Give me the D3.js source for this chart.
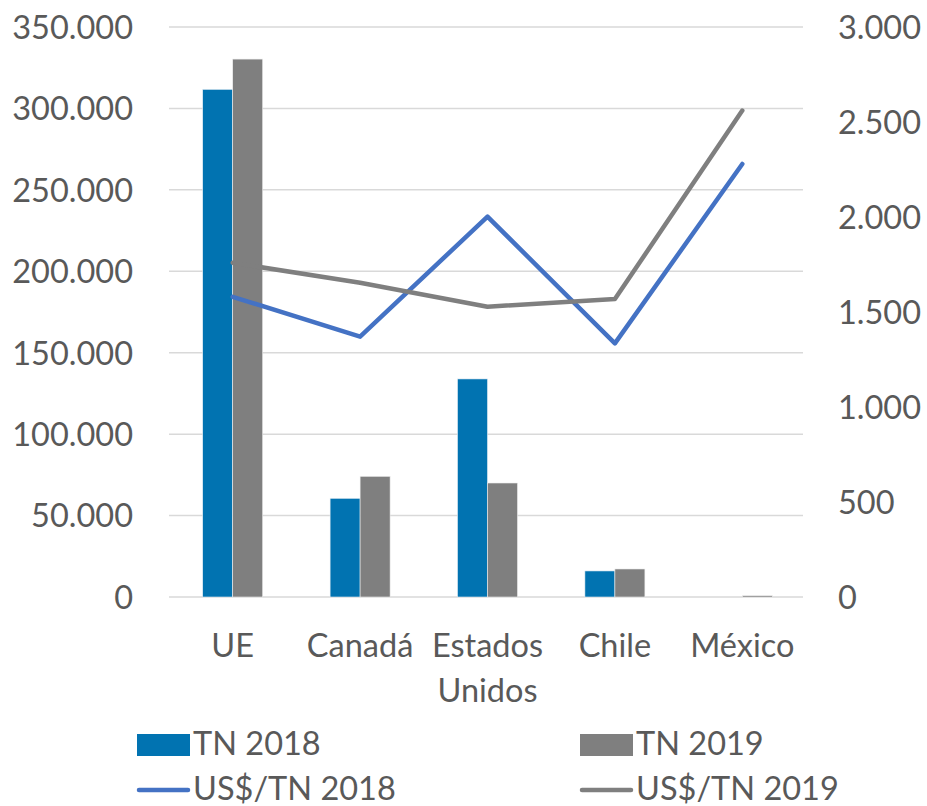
<!DOCTYPE html>
<html><head><meta charset="utf-8">
<script src="https://cdn.jsdelivr.net/npm/d3@7"></script>
<style>
html,body{margin:0;padding:0;background:#fff;}
svg text{font-family:Lato, "Open Sans", sans-serif;fill:#595959;}
</style></head>
<body>
<svg id="chart" width="927" height="806"></svg>
<script>
const categories = ["UE", "Canadá", "Estados Unidos", "Chile", "México"];
const categoryLines = [["UE"], ["Canadá"], ["Estados", "Unidos"], ["Chile"], ["México"]];
const tn2018 = [311700, 60600, 133900, 16000, 0];
const tn2019 = [330300, 74100, 70000, 17200, 800];
const usd2018 = [1580, 1370, 2002, 1335, 2279];
const usd2019 = [1759, 1654, 1528, 1568, 2560];
const leftTicks = [0, 50000, 100000, 150000, 200000, 250000, 300000, 350000];
const rightTicks = [0, 500, 1000, 1500, 2000, 2500, 3000];
const seriesNames = ["TN 2018", "TN 2019", "US$/TN 2018", "US$/TN 2019"];

const FS = 32.5;
const fmt = v => d3.format(",")(v).replace(/,/g, ".");
const svg = d3.select("#chart");
const L = 169, R = 806, T = 27, B = 597;
const x = d3.scaleBand().domain(categories).range([L, R]).paddingInner(0).paddingOuter(0);
const yL = d3.scaleLinear().domain([0, 350000]).range([B, T]);
const yR = d3.scaleLinear().domain([0, 3000]).range([B, T]);
const barW = 30;
const xs = d3.scaleBand().domain(["a", "b"]).range([-barW, barW]);

// gridlines
svg.append("g").selectAll("line").data(leftTicks).join("line")
  .attr("x1", L).attr("x2", R - 3)
  .attr("y1", d => yL(d)).attr("y2", d => yL(d))
  .attr("stroke", "#d9d9d9").attr("stroke-width", 1.5);

// left axis
const axL = d3.axisLeft(yL).tickValues(leftTicks).tickFormat(fmt).tickSize(0).tickPadding(0);
const gL = svg.append("g").attr("transform", "translate(133,0)").call(axL);
gL.select(".domain").remove();
gL.selectAll("text").attr("font-size", FS).attr("fill", "#595959").attr("dy", "0.35em")
  .style("font-family", "Lato, sans-serif");

// right axis
const axR = d3.axisRight(yR).tickValues(rightTicks).tickFormat(fmt).tickSize(0).tickPadding(0);
const gR = svg.append("g").attr("transform", "translate(838,0)").call(axR);
gR.select(".domain").remove();
gR.selectAll("text").attr("font-size", FS).attr("fill", "#595959").attr("dy", "0.35em")
  .style("font-family", "Lato, sans-serif");

// bars
const cx = c => x(c) + x.bandwidth() / 2;
const bars = svg.append("g");
bars.selectAll("rect.b18").data(categories).join("rect").attr("class", "b18")
  .attr("x", (c) => cx(c) + xs("a")).attr("width", xs.bandwidth())
  .attr("y", (c, i) => yL(tn2018[i])).attr("height", (c, i) => B - yL(tn2018[i]))
  .attr("fill", "#0173b1").attr("stroke", "#e8eef5").attr("stroke-width", 0.6);
bars.selectAll("rect.b19").data(categories).join("rect").attr("class", "b19")
  .attr("x", (c) => cx(c) + xs("b")).attr("width", xs.bandwidth())
  .attr("y", (c, i) => yL(tn2019[i])).attr("height", (c, i) => B - yL(tn2019[i]))
  .attr("fill", "#7f7f7f").attr("stroke", "#eeeeee").attr("stroke-width", 0.6);

// lines
const line = d3.line().x(d => cx(d.c)).y(d => yR(d.v));
svg.append("path").datum(categories.map((c, i) => ({c, v: usd2018[i]})))
  .attr("d", line).attr("fill", "none").attr("stroke", "#4472c4").attr("stroke-width", 4.5)
  .attr("stroke-linejoin", "round").attr("stroke-linecap", "round");
svg.append("path").datum(categories.map((c, i) => ({c, v: usd2019[i]})))
  .attr("d", line).attr("fill", "none").attr("stroke", "#7f7f7f").attr("stroke-width", 4.5)
  .attr("stroke-linejoin", "round").attr("stroke-linecap", "round");

// category labels
const cl = svg.append("g");
categories.forEach((c, i) => {
  const t = cl.append("text").attr("text-anchor", "middle").attr("font-size", FS)
    .attr("x", cx(c)).attr("y", 657);
  categoryLines[i].forEach((ln, j) => {
    t.append("tspan").attr("x", cx(c)).attr("y", 657 + j * 45).text(ln);
  });
});

// legend
const lg = svg.append("g");
const legItems = [
  {name: seriesNames[0], type: "rect", color: "#0173b1", x: 137, y: 745},
  {name: seriesNames[1], type: "rect", color: "#7f7f7f", x: 580, y: 745},
  {name: seriesNames[2], type: "line", color: "#4472c4", x: 137, y: 790},
  {name: seriesNames[3], type: "line", color: "#7f7f7f", x: 580, y: 790}
];
legItems.forEach(d => {
  if (d.type === "rect") {
    lg.append("rect").attr("x", d.x).attr("y", d.y - 11).attr("width", 53).attr("height", 22).attr("fill", d.color);
  } else {
    lg.append("line").attr("x1", d.x + 2).attr("x2", d.x + 51).attr("y1", d.y).attr("y2", d.y)
      .attr("stroke", d.color).attr("stroke-width", 4.5).attr("stroke-linecap", "round");
  }
  lg.append("text").attr("x", d.x + 56).attr("y", d.y - 1).attr("dy", "0.34em")
    .attr("font-size", FS).text(d.name);
});
</script>
</body></html>
